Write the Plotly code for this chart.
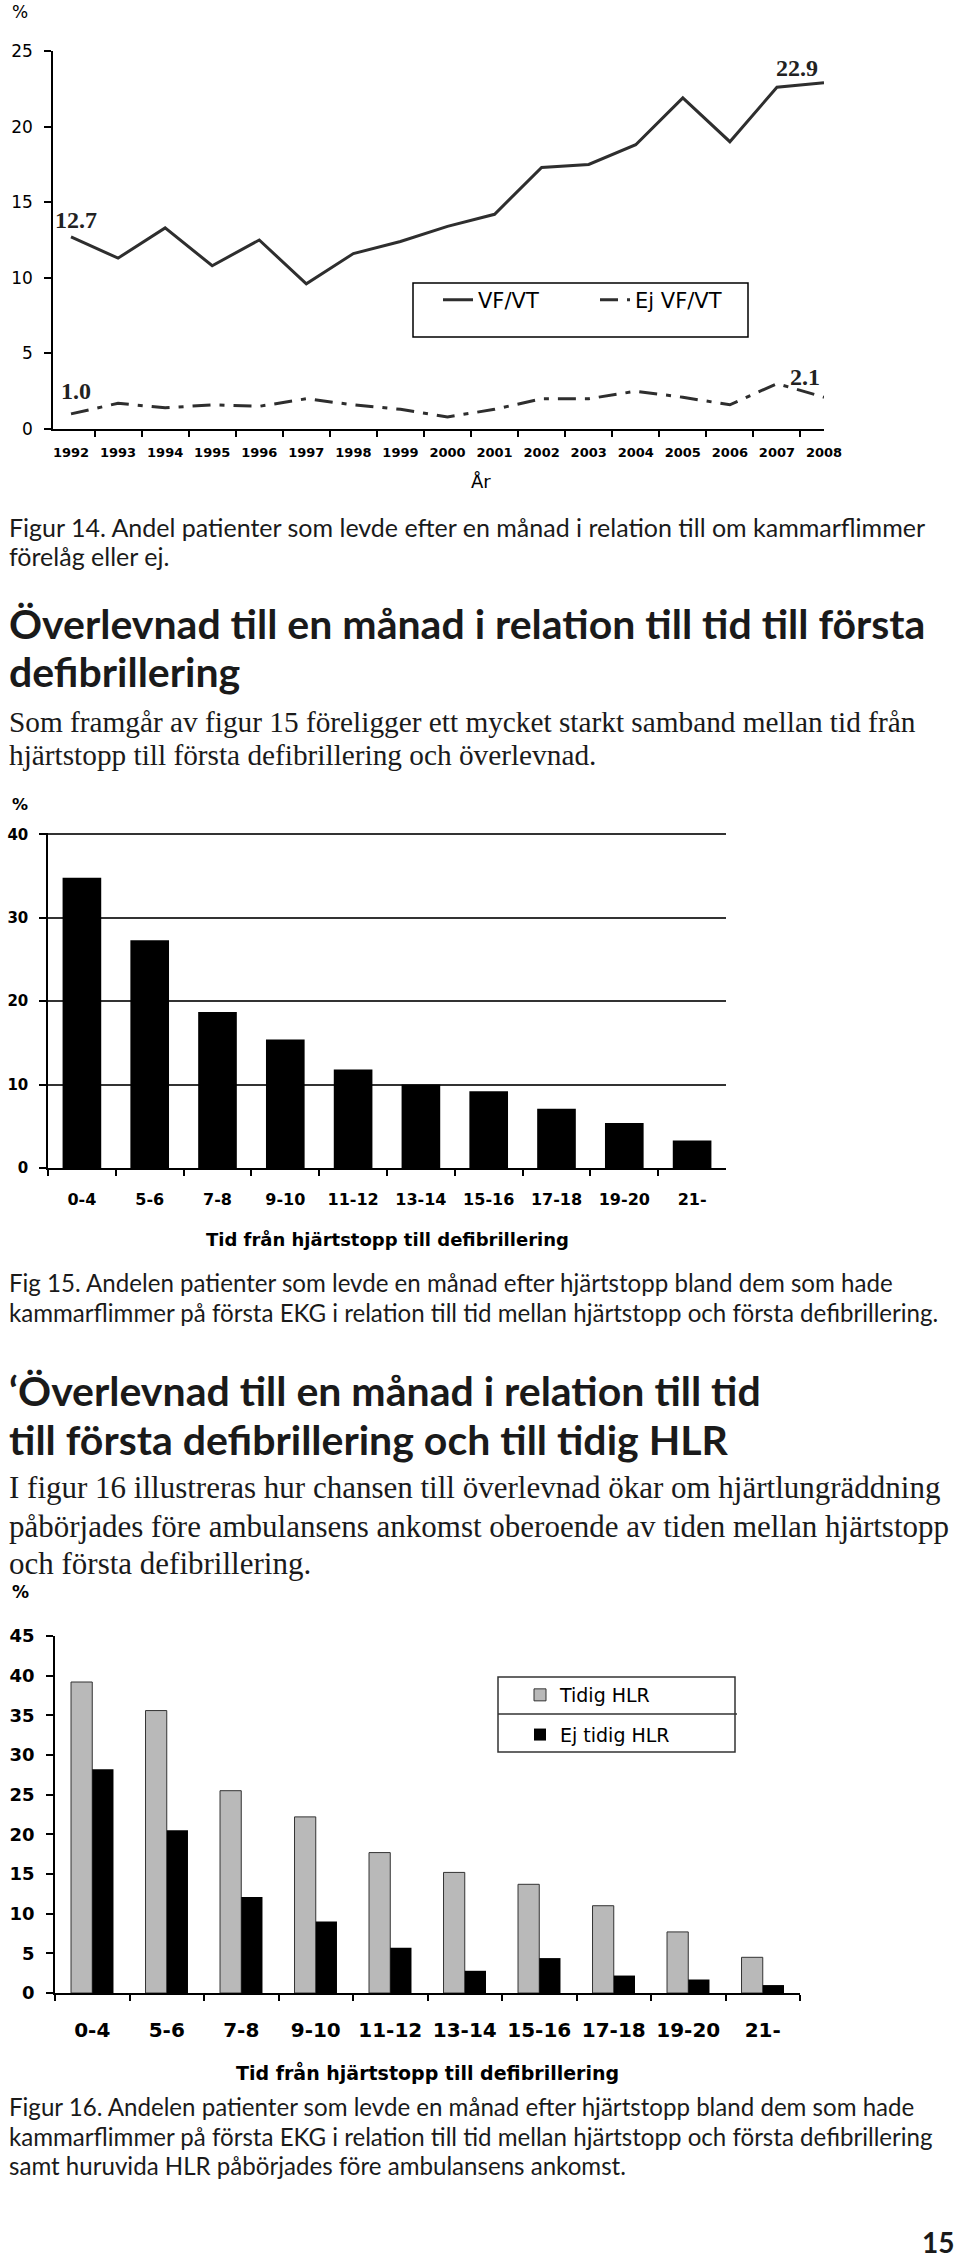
import plotly.graph_objects as go

W, H = 960, 2263

# ---- data ----
years = [str(y) for y in range(1992, 2009)]
vf_vt = [12.7, 11.3, 13.3, 10.8, 12.5, 9.6, 11.6, 12.4, 13.4, 14.2, 17.3, 17.5, 18.8, 21.9, 19.0, 22.6, 22.9]
ej_vf_vt = [1.0, 1.7, 1.4, 1.6, 1.5, 2.0, 1.6, 1.3, 0.8, 1.3, 2.0, 2.0, 2.5, 2.1, 1.6, 3.0, 2.1]

time_cats = ["0-4", "5-6", "7-8", "9-10", "11-12", "13-14", "15-16", "17-18", "19-20", "21-"]
survival = [34.8, 27.3, 18.7, 15.4, 11.8, 10.0, 9.2, 7.1, 5.4, 3.3]
tidig_hlr = [39.2, 35.6, 25.5, 22.2, 17.7, 15.2, 13.7, 11.0, 7.7, 4.5]
ej_tidig_hlr = [28.2, 20.5, 12.1, 9.0, 5.7, 2.8, 4.4, 2.2, 1.7, 1.0]

caption_14 = ["Figur 14. Andel patienter som levde efter en månad i relation till om kammarflimmer",
              "förelåg eller ej."]
head_1 = ["Överlevnad till en månad i relation till tid till första", "defibrillering"]
body_1 = ["Som framgår av figur 15 föreligger ett mycket starkt samband mellan tid från",
          "hjärtstopp till första defibrillering och överlevnad."]
caption_15 = ["Fig 15. Andelen patienter som levde en månad efter hjärtstopp bland dem som hade",
              "kammarflimmer på första EKG i relation till tid mellan hjärtstopp och första defibrillering."]
head_2 = ["‘Överlevnad till en månad i relation till tid", "till första defibrillering och till tidig HLR"]
body_2 = ["I figur 16 illustreras hur chansen till överlevnad ökar om hjärtlungräddning",
          "påbörjades före ambulansens ankomst oberoende av tiden mellan hjärtstopp",
          "och första defibrillering."]
caption_16 = ["Figur 16. Andelen patienter som levde en månad efter hjärtstopp bland dem som hade",
              "kammarflimmer på första EKG i relation till tid mellan hjärtstopp och första defibrillering",
              "samt huruvida HLR påbörjades före ambulansens ankomst."]

CHART = "DejaVu Sans, Liberation Sans, sans-serif"
TEXT = "Lato, Noto Sans, sans-serif"
SERIF = "Liberation Serif, Times New Roman, serif"
LINE = "#2e2e2e"


def px(x):
    return x / W


def py(y):
    return 1 - y / H


fig = go.Figure()

fig.add_trace(go.Scatter(x=years, y=vf_vt, mode="lines", name="VF/VT",
                         line=dict(color=LINE, width=3), xaxis="x", yaxis="y", legend="legend"))
fig.add_trace(go.Scatter(x=years, y=ej_vf_vt, mode="lines", name="Ej VF/VT",
                         line=dict(color=LINE, width=3, dash="18px,9px,5px,9px"),
                         xaxis="x", yaxis="y", legend="legend"))

fig.add_trace(go.Bar(x=time_cats, y=survival, marker=dict(color="black", line=dict(width=0)),
                     xaxis="x2", yaxis="y2", showlegend=False))

fig.add_trace(go.Bar(x=time_cats, y=tidig_hlr, name="Tidig HLR", legendgroup="a",
                     marker=dict(color="#b9b9b9", line=dict(color="#333333", width=1)),
                     xaxis="x3", yaxis="y3", legend="legend2"))
fig.add_trace(go.Bar(x=time_cats, y=ej_tidig_hlr, name="Ej tidig HLR", legendgroup="b",
                     marker=dict(color="black", line=dict(width=0)),
                     xaxis="x3", yaxis="y3", legend="legend2"))

xcommon = dict(type="category", tickson="boundaries", ticks="outside", ticklen=6, tickwidth=1.5,
               tickcolor="black", showline=True, linecolor="black", linewidth=1.5, tickangle=0,
               showgrid=False, zeroline=False, fixedrange=True)
ycommon = dict(ticks="outside", ticklen=7, tickwidth=1.5, tickcolor="black", showline=True,
               linecolor="black", linewidth=1.5, zeroline=False, fixedrange=True)

annotations = []


def add_lines(lines, ys, size, family, weight="normal", x=7):
    for t, y in zip(lines, ys):
        annotations.append(dict(text=t, x=px(x), y=py(y), xref="paper", yref="paper",
                                xanchor="left", yanchor="middle", showarrow=False,
                                font=dict(size=size, family=family, color="#1a1a1a", weight=weight)))


add_lines(caption_14, [527, 556], 25, TEXT)
add_lines(head_1, [624, 671], 41, TEXT, "bold")
add_lines(body_1, [722, 755], 29.3, SERIF)
add_lines(caption_15, [1282, 1312], 24.1, TEXT)
add_lines(head_2, [1390, 1439], 41, TEXT, "bold")
add_lines(body_2, [1487, 1526, 1563], 31, SERIF)
add_lines(caption_16, [2106, 2136, 2165], 24.1, TEXT)

# axis labels
for t, x, y, size, weight in [("%", 20, 12, 17, "normal"), ("År", 481, 482, 18, "normal"),
                              ("%", 20, 804, 16, "bold"),
                              ("Tid från hjärtstopp till defibrillering", 387, 1239, 18, "bold"),
                              ("%", 20, 1592, 17, "bold"),
                              ("Tid från hjärtstopp till defibrillering", 427, 2072, 19, "bold")]:
    annotations.append(dict(text=t, x=px(x), y=py(y), xref="paper", yref="paper",
                            xanchor="center", yanchor="middle", showarrow=False,
                            font=dict(size=size, family=CHART, color="black", weight=weight)))
annotations.append(dict(text="15", x=px(956), y=py(2242), xref="paper", yref="paper",
                        xanchor="right", yanchor="middle", showarrow=False,
                        font=dict(size=28, family=TEXT, color="#1a1a1a", weight="bold")))

# end-point value labels on figure 14 (category axis -> use the category index)
for xi, series, xs, ys in [(0, vf_vt, 5, 17), (len(years) - 1, vf_vt, -27, 15),
                           (0, ej_vf_vt, 5, 23), (len(years) - 1, ej_vf_vt, -19, 20)]:
    annotations.append(dict(text=f"{series[xi]:.1f}", x=xi, y=series[xi], xref="x", yref="y",
                            xshift=xs, yshift=ys, showarrow=False,
                            font=dict(size=24, family=SERIF, color="#222", weight="bold")))

shapes = [
    dict(type="rect", xref="paper", yref="paper", x0=px(413), x1=px(748), y0=py(283), y1=py(337),
         line=dict(color="black", width=1.5)),
    dict(type="rect", xref="paper", yref="paper", x0=px(498), x1=px(735), y0=py(1677), y1=py(1752),
         line=dict(color="#333", width=1.5)),
    dict(type="line", xref="paper", yref="paper", x0=px(498), x1=px(737), y0=py(1714), y1=py(1714),
         line=dict(color="#333", width=1.5)),
]

fig.update_layout(
    width=W, height=H, margin=dict(l=0, r=0, t=0, b=0, autoexpand=False),
    paper_bgcolor="white", plot_bgcolor="white",
    barmode="group", bargap=0.43, bargroupgap=0,
    xaxis=dict(xcommon, domain=[px(53), px(824)], anchor="y",
               tickfont=dict(size=13, family=CHART, color="black", weight="bold"), ticklabelstandoff=11),
    yaxis=dict(ycommon, domain=[py(429), py(51)], range=[0, 25], tickvals=[0, 5, 10, 15, 20, 25],
               anchor="x", showgrid=False, ticklabelstandoff=8,
               tickfont=dict(size=17, family=CHART, color="black")),
    xaxis2=dict(xcommon, domain=[px(48), px(726)], anchor="y2",
                tickfont=dict(size=16, family=CHART, color="black", weight="bold"), ticklabelstandoff=16),
    yaxis2=dict(ycommon, domain=[py(1168), py(833)], range=[0, 40.15], tickvals=[0, 10, 20, 30, 40],
                anchor="x2", showgrid=True, gridcolor="#333", gridwidth=1.5, ticklabelstandoff=8,
                tickfont=dict(size=15, family=CHART, color="black", weight="bold")),
    xaxis3=dict(xcommon, domain=[px(55), px(800)], anchor="y3",
                tickfont=dict(size=20, family=CHART, color="black", weight="bold"), ticklabelstandoff=18),
    yaxis3=dict(ycommon, domain=[py(1993), py(1636)], range=[0, 45],
                tickvals=[0, 5, 10, 15, 20, 25, 30, 35, 40, 45], anchor="x3", showgrid=False,
                ticklabelstandoff=8, tickfont=dict(size=18, family=CHART, color="black", weight="bold")),
    legend=dict(orientation="h", x=px(438), y=py(300), xanchor="left", yanchor="middle",
                bgcolor="rgba(0,0,0,0)", borderwidth=0, entrywidth=112,
                font=dict(size=21, family=CHART, color="black")),
    legend2=dict(orientation="v", x=px(520), y=py(1715), xanchor="left", yanchor="middle",
                 bgcolor="rgba(0,0,0,0)", borderwidth=0, tracegroupgap=12,
                 font=dict(size=19, family=CHART, color="black")),
    annotations=annotations, shapes=shapes,
)

fig.write_html("out.html", config={"displayModeBar": False},
               post_script="document.body.style.margin='0';")
